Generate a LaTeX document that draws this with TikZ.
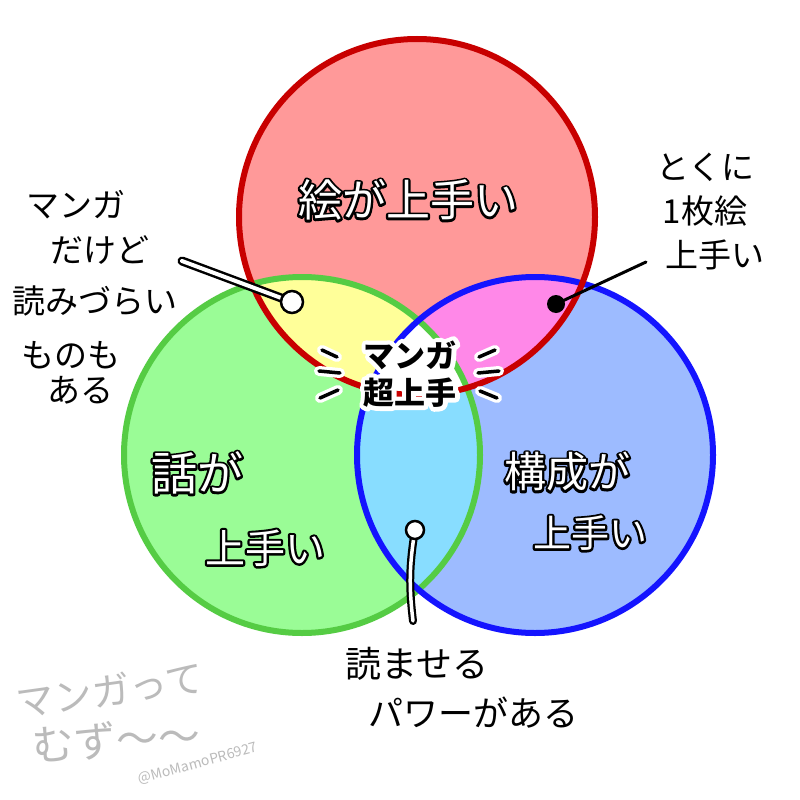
\documentclass[tikz,border=0pt]{standalone}
\usepackage{fontspec}
\setmainfont{Noto Sans CJK JP}

\definecolor{redfill}{HTML}{FF9999}
\definecolor{redline}{HTML}{C80000}
\definecolor{greenfill}{HTML}{9AFC96}
\definecolor{greenline}{HTML}{55CC44}
\definecolor{bluefill}{HTML}{9DBBFF}
\definecolor{blueline}{HTML}{1414FF}
\definecolor{yellowfill}{HTML}{FFFF99}
\definecolor{pinkfill}{HTML}{FF88E8}
\definecolor{cyanfill}{HTML}{88DDFF}
\definecolor{graytext}{HTML}{BBBBBB}

% text drawn as a stroked outline (pdf text render mode 1)
\newcommand{\strokedtext}[2]{\special{pdf:literal direct #1 w 1 j 1 J 1 Tr}#2\special{pdf:literal direct 0 Tr}}
\newcommand{\whitelabel}[1]{\rlap{\textcolor{black}{\strokedtext{4.5}{#1}}}\textcolor{white}{#1}}
\newcommand{\boldlabel}[1]{\rlap{\textcolor{white}{\strokedtext{9}{#1}}}\textcolor{black}{#1}}

\begin{document}
\begin{tikzpicture}[x=1pt,y=-1pt,every node/.style={font=\fontsize{33}{44}\selectfont}]
  \useasboundingbox[fill=white] (0,0) rectangle (800,800);
  \coordinate (r) at (417,217);
  \coordinate (g) at (302,455);
  \coordinate (b) at (535,455);
  % fills
  \fill[redfill] (r) circle (178pt);
  \fill[greenfill] (g) circle (178pt);
  \fill[bluefill] (b) circle (178pt);
  \begin{scope}
    \clip (r) circle (178pt);
    \fill[yellowfill] (g) circle (178pt);
    \fill[pinkfill] (b) circle (178pt);
  \end{scope}
  \begin{scope}
    \clip (g) circle (178pt);
    \fill[cyanfill] (b) circle (178pt);
  \end{scope}
  \begin{scope}
    \clip (r) circle (178pt);
    \clip (g) circle (178pt);
    \fill[white] (b) circle (178pt);
  \end{scope}
  % outlines
  \draw[greenline,line width=6pt] (g) circle (178pt);
  \draw[blueline,line width=6pt] (b) circle (178pt);
  \draw[redline,line width=6pt] (r) circle (178pt);

  % circle labels
  \node[font=\fontsize{44}{50}\selectfont] (drawing) at (408,200) {\whitelabel{絵が上手い}};
  \node[font=\fontsize{46}{50}\selectfont] (story) at (197,473) {\whitelabel{話が}};
  \node[font=\fontsize{40}{50}\selectfont] (story2) at (265,548) {\whitelabel{上手い}};
  \node[font=\fontsize{42}{50}\selectfont] (layout) at (567,472) {\whitelabel{構成が}};
  \node[font=\fontsize{38}{50}\selectfont] (layout2) at (590,533) {\whitelabel{上手い}};

  % centre
  \node[align=center,font=\bfseries\fontsize{31}{37}\selectfont] (best) at (410,374)
    {\boldlabel{マンガ}\\\boldlabel{超上手}};
  \foreach \a/\b in {{(322,350)}/{(337,357)},{(319,371)}/{(340,373)},{(320,398)}/{(338,390)},
                     {(479,357)}/{(495,350)},{(478,373)}/{(499,371)},{(480,391)}/{(497,398)}}{
    \draw[white,line width=10pt,line cap=round] \a -- \b;
    \draw[black,line width=3.5pt,line cap=round] \a -- \b;
  }

  % left note
  \node (manga) at (76,205) {マンガ};
  \node (dakedo) at (100,250) {だけど};
  \node (yomi) at (95,301) {読みづらい};
  \node (mono) at (71,355) {ものも};
  \node (aru) at (80,390) {ある};
  \coordinate (leftend) at (182,261);
  \coordinate (leftdot) at (292,302);
  \draw[black,line width=9pt,line cap=round] (leftend) -- (leftdot);
  \draw[white,line width=4pt,line cap=round] (leftend) -- (leftdot);
  \node[circle,draw=black,fill=white,line width=2.5pt,minimum size=22pt,inner sep=0pt] (ldot) at (leftdot) {};

  % right note
  \node[align=center] (tokuni) at (705,212) {とくに\\1枚絵\\\hspace{0.6em}上手い};
  \coordinate (rightend) at (646,262);
  \node[circle,fill=black,minimum size=18pt,inner sep=0pt] (rdot) at (556,304) {};
  \draw[line width=3pt,line cap=round] (rightend) -- (rdot.center);

  % bottom note
  \node[font=\fontsize{36}{44}\selectfont] (yomaseru) at (417,664) {読ませる};
  \node[font=\fontsize{35}{44}\selectfont] (power) at (473,713) {パワーがある};
  \coordinate (bottomend) at (413,621);
  \coordinate (bottomdot) at (415,530);
  \draw[black,line width=8pt,line cap=round] (bottomdot) to[bend right=8] (bottomend);
  \draw[white,line width=3.5pt,line cap=round] (bottomdot) to[bend right=8] (bottomend);
  \node[circle,draw=black,fill=white,line width=2.5pt,minimum size=18pt,inner sep=0pt] (bdot) at (bottomdot) {};

  % signature
  \node[graytext,inner sep=0pt,rotate=8,font=\fontsize{38}{40}\selectfont] (muzu1) at (110,690) {マンガって};
  \node[graytext,inner sep=0pt,rotate=4,font=\fontsize{42}{44}\selectfont] (muzu2) at (116,740) {むず〜〜};
  \node[graytext,inner sep=0pt,rotate=15,font=\fontsize{14}{16}\selectfont] (handle) at (198,764) {@MoMamoPR6927};
\end{tikzpicture}
\end{document}
